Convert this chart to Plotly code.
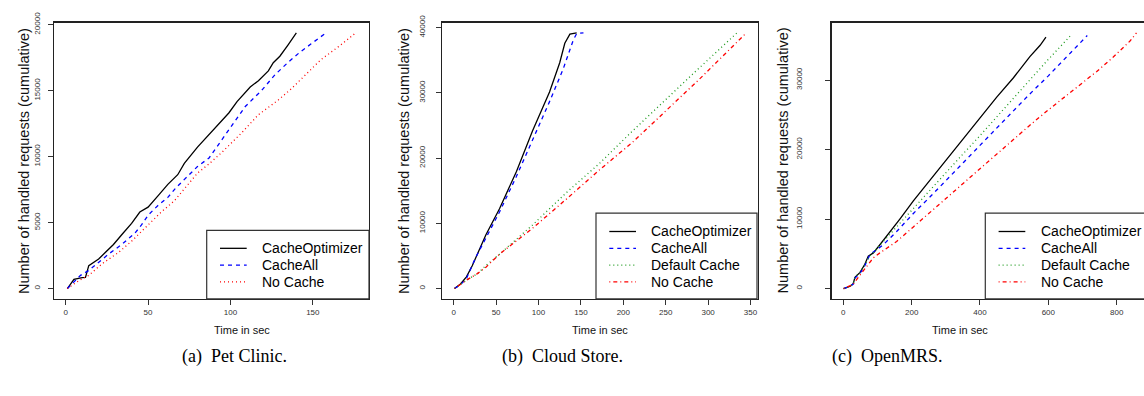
import plotly.graph_objects as go

W, H = 1144, 396

# ---------------- data ----------------
# (a) Pet Clinic
p1_opt_t = [1, 5, 10, 12, 14, 20, 24, 29, 34, 40, 45, 50, 56, 62, 68, 72, 80, 87, 94, 99, 104, 109, 112, 117, 123, 126, 130, 135, 140]
p1_opt_n = [0, 690, 830, 850, 1740, 2240, 2730, 3340, 4080, 4940, 5800, 6170, 7030, 7900, 8630, 9490, 10720, 11700, 12690, 13310, 14170, 14910, 15280, 15760, 16500, 17120, 17610, 18480, 19380]
p1_all_t = [1, 9, 14, 20, 26, 34, 42, 46, 50, 56, 62, 67, 74, 80, 87, 93, 101, 109, 119, 127, 135, 142, 149, 158]
p1_all_n = [0, 1000, 1370, 1990, 2610, 3340, 4200, 4820, 5560, 6300, 6910, 7650, 8510, 9250, 9900, 10970, 12440, 13800, 15030, 16200, 17150, 17900, 18550, 19380]
p1_no_t = [1, 8, 14, 22, 32, 40, 50, 58, 66, 74, 80, 87, 95, 107, 117, 129, 137, 147, 155, 167, 176]
p1_no_n = [0, 600, 1000, 1870, 2730, 3590, 4820, 5800, 6660, 7900, 8750, 9450, 10350, 11830, 13180, 14290, 15150, 16380, 17360, 18470, 19380]

# (b) Cloud Store
p2_opt_t = [1, 8, 15, 22, 38, 54, 74, 93, 113, 125, 131, 137, 145]
p2_opt_n = [0, 700, 1790, 3530, 8260, 12240, 17960, 24180, 30150, 34630, 37610, 39000, 39200]
p2_all_t = [1, 8, 15, 26, 38, 54, 74, 93, 113, 129, 141, 145, 153]
p2_all_n = [0, 600, 1540, 4780, 7760, 11740, 17210, 22690, 28660, 33630, 38110, 39100, 39200]
p2_def_t = [1, 8, 15, 28, 38, 54, 93, 133, 172, 211, 251, 290, 334]
p2_def_n = [0, 700, 1290, 2290, 3530, 5270, 9750, 14730, 19200, 24180, 29150, 33880, 39200]
p2_no_t = [1, 8, 15, 28, 38, 54, 93, 133, 172, 211, 251, 290, 345]
p2_no_n = [0, 700, 1290, 2290, 3280, 5270, 9250, 13730, 18210, 22440, 27410, 32140, 39200]

# (c) OpenMRS
p3_opt_t = [1, 20, 29, 34, 49, 63, 73, 88, 107, 137, 166, 205, 254, 302, 351, 400, 449, 498, 546, 576, 593]
p3_opt_n = [0, 330, 700, 1630, 2330, 3500, 4670, 5130, 6300, 8170, 10030, 12600, 15630, 18430, 21470, 24500, 27530, 30330, 33370, 35000, 36170]
p3_all_t = [1, 20, 29, 34, 49, 63, 78, 117, 156, 205, 254, 302, 351, 400, 449, 498, 546, 600, 654, 714]
p3_all_n = [0, 330, 650, 1500, 2200, 3300, 4900, 6300, 8200, 10800, 13200, 15700, 18100, 20600, 23100, 25600, 28000, 30600, 33300, 36400]
p3_def_t = [1, 20, 29, 34, 49, 63, 78, 117, 156, 205, 254, 302, 351, 400, 449, 498, 546, 595, 668]
p3_def_n = [0, 330, 700, 1630, 2330, 3500, 4670, 6770, 8900, 11500, 14200, 16800, 19400, 22000, 24700, 27400, 30000, 32700, 36540]
p3_no_t = [1, 29, 44, 58, 88, 107, 156, 205, 254, 302, 351, 400, 449, 498, 546, 595, 644, 693, 741, 790, 839, 858]
p3_no_n = [0, 610, 1630, 2570, 4430, 5130, 6770, 8870, 10970, 13100, 15200, 17300, 19400, 21500, 23500, 25500, 27400, 29300, 31200, 33300, 35600, 36780]

x_ticks = [[0, 50, 100, 150], [0, 50, 100, 150, 200, 250, 300, 350], [0, 200, 400, 600, 800]]
y_ticks = [[0, 5000, 10000, 15000, 20000], [0, 10000, 20000, 30000, 40000], [0, 10000, 20000, 30000]]
captions = ["(a)\u00a0 Pet Clinic.", "(b)\u00a0 Cloud Store.", "(c)\u00a0 OpenMRS."]
x_title = "Time in sec"
y_title = "Number of handled requests (cumulative)"

# ---------------- styles ----------------
STY = {
    "CacheOptimizer": dict(color="#000000", dash="solid"),
    "CacheAll": dict(color="#0000FF", dash="4px,4px"),
    "Default Cache": dict(color="#1E9A1E", dash="1px,3px"),
    "No Cache dot": dict(color="#FF0000", dash="1px,3px"),
    "No Cache dd": dict(color="#FF0000", dash="1px,3px,4px,3px"),
}

panels = [
    dict(series=[("CacheOptimizer", p1_opt_t, p1_opt_n, "CacheOptimizer"),
                 ("CacheAll", p1_all_t, p1_all_n, "CacheAll"),
                 ("No Cache", p1_no_t, p1_no_n, "No Cache dot")],
         px=(54, 369), py=(12, 296), xr=[-7.1, 184.1], yr=[-775, 20155],
         leg=(206.7, 225.7), mirror_y=True, ytitle_x=13.3, cap_x=180, ystand=5),
    dict(series=[("CacheOptimizer", p2_opt_t, p2_opt_n, "CacheOptimizer"),
                 ("CacheAll", p2_all_t, p2_all_n, "CacheAll"),
                 ("Default Cache", p2_def_t, p2_def_n, "Default Cache"),
                 ("No Cache", p2_no_t, p2_no_n, "No Cache dd")],
         px=(442, 758), py=(12, 296), xr=[-13.8, 358.8], yr=[-1568, 40768],
         leg=(596, 208), mirror_y=True, ytitle_x=403.3, cap_x=562, ystand=8),
    dict(series=[("CacheOptimizer", p3_opt_t, p3_opt_n, "CacheOptimizer"),
                 ("CacheAll", p3_all_t, p3_all_n, "CacheAll"),
                 ("Default Cache", p3_def_t, p3_def_n, "Default Cache"),
                 ("No Cache", p3_no_t, p3_no_n, "No Cache dd")],
         px=(831.6, 1144), py=(12, 296), xr=[-34.3, 880], yr=[-1471, 38250],
         leg=(985.3, 208), mirror_y=False, ytitle_x=792.7, cap_x=945, ystand=20),
]

def fx(x):
    return x / W

def fy(y):
    return 1 - y / H

fig = go.Figure()
shapes, annos = [], []
FONT = "Liberation Sans, Arial, Helvetica, sans-serif"

for i, p in enumerate(panels):
    k = "" if i == 0 else str(i + 1)
    for name, t, n, sk in p["series"]:
        s = STY[sk]
        fig.add_trace(go.Scatter(x=t, y=n, mode="lines", name=name, showlegend=False,
                                 xaxis="x" + k, yaxis="y" + k,
                                 line=dict(color=s["color"], dash=s["dash"], width=1.3)))
    common = dict(showgrid=False, zeroline=False, showline=True, linecolor="#222",
                  linewidth=1.3, ticks="outside", ticklen=5, tickcolor="#333",
                  tickformat="d",
                  tickfont=dict(family=FONT, size=8, color="#333"))
    fig.update_layout(**{
        "xaxis" + k: dict(domain=[fx(p["px"][0]), fx(p["px"][1])], range=p["xr"],
                          anchor="y" + k, tickvals=x_ticks[i], mirror=True, **common),
        "yaxis" + k: dict(domain=[fy(p["py"][1]), fy(p["py"][0])], range=p["yr"],
                          anchor="x" + k, tickvals=y_ticks[i], tickangle=-90,
                          ticklabelstandoff=p["ystand"],
                          mirror=p["mirror_y"], **common),
    })
    # axis titles and caption
    annos.append(dict(x=fx((p["px"][0] + p["px"][0] + 316) / 2), y=fy(336),
                      xref="paper", yref="paper", text=x_title, showarrow=False,
                      font=dict(family=FONT, size=11, color="#111")))
    annos.append(dict(x=fx(p["ytitle_x"]), y=fy((p["py"][0] + p["py"][1]) / 2),
                      xref="paper", yref="paper", text=y_title, textangle=-90,
                      showarrow=False, font=dict(family=FONT, size=14.5, color="#111")))
    annos.append(dict(x=fx(p["cap_x"]), y=fy(368), xref="paper", yref="paper",
                      text=captions[i], showarrow=False,
                      font=dict(family="Liberation Serif, DejaVu Serif, serif", size=18, color="#000")))
    # legend box
    lx, ly = p["leg"]
    shapes.append(dict(type="rect", xref="paper", yref="paper", layer="above",
                       x0=fx(lx), x1=fx(min(p["px"][0] + 315, W + 10)), y0=fy(296), y1=fy(ly),
                       line=dict(color="#333", width=1.2), fillcolor="white"))
    nrow = len(p["series"])
    rows_y = [278.7 - 17.3 * (nrow - 1 - j) for j in range(nrow)]
    for j, (name, t, n, sk) in enumerate(p["series"]):
        s = STY[sk]
        yy = rows_y[j]
        shapes.append(dict(type="line", xref="paper", yref="paper", layer="above",
                           x0=fx(lx + 13.3), x1=fx(lx + 40), y0=fy(yy), y1=fy(yy),
                           line=dict(color=s["color"], dash=s["dash"], width=1.3)))
        annos.append(dict(x=fx(lx + 53.3), y=fy(yy), xref="paper", yref="paper",
                          xanchor="left", yanchor="middle", text=name, showarrow=False,
                          font=dict(family=FONT, size=14, color="#000")))

fig.update_layout(width=W, height=H, margin=dict(l=0, r=0, t=0, b=0),
                  paper_bgcolor="white", plot_bgcolor="white",
                  shapes=shapes, annotations=annos, showlegend=False)

fig.write_html("out.html", config={"displayModeBar": False, "staticPlot": True},
               post_script="document.body.style.margin='0';document.body.style.overflow='hidden';")
